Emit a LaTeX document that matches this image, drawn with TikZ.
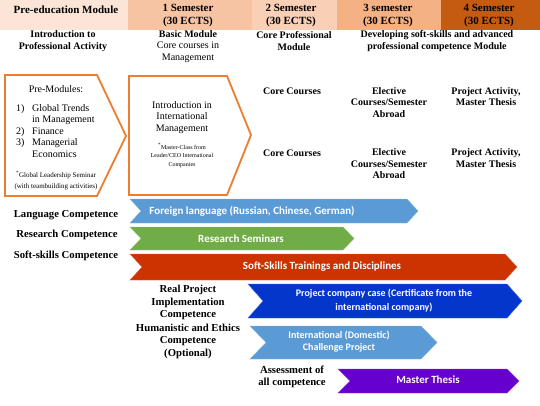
\documentclass[tikz,border=0pt]{standalone}
\usepackage{fontspec}
\setmainfont{Liberation Serif}
\newfontfamily\calfont{Carlito}
\definecolor{hc0}{HTML}{FCE4D6}
\definecolor{hc1}{HTML}{F6C4A3}
\definecolor{hc2}{HTML}{F9D0B5}
\definecolor{hc3}{HTML}{F4B183}
\definecolor{hc4}{HTML}{C55A11}
\definecolor{orangeline}{HTML}{ED7D31}
\definecolor{cblue}{HTML}{5B9BD5}
\definecolor{cgreen}{HTML}{70AD47}
\definecolor{cred}{HTML}{CC3300}
\definecolor{cdblue}{HTML}{0436CC}
\definecolor{cpurple}{HTML}{6600CC}
\tikzset{
  hdr/.style={font=\bfseries\fontsize{11}{13}\selectfont, align=center, inner sep=0pt},
  sub/.style={font=\fontsize{10}{11.5}\selectfont, align=center, inner sep=0pt},
  bsub/.style={sub, font=\bfseries\fontsize{10}{11.5}\selectfont},
  lbl/.style={font=\bfseries\fontsize{10.7}{12.5}\selectfont, align=center, inner sep=0pt},
  ctext/.style={font=\calfont\bfseries\fontsize{11}{13}\selectfont, text=white, align=center, inner sep=0pt},
  pent/.style={draw=orangeline, line width=1.8pt, fill=white, line join=miter},
  chev/.style={line width=0.4pt},
}
% \chevron{x1}{y1}{x2}{y2}{depth}{colour}
\newcommand{\chevron}[6]{%
  \pgfmathsetmacro{\ymid}{(#2+#4)/2}%
  \filldraw[chev, fill=#6, draw=#6!75!white] (#1,#2) -- (#3-#5,#2) -- (#3,\ymid) -- (#3-#5,#4) -- (#1,#4) -- (#1+#5,\ymid) -- cycle;%
}
\begin{document}
\begin{tikzpicture}[x=1pt,y=-1pt]
\useasboundingbox (0,0) rectangle (540,406);
% header band
\fill[hc0] (0,0) rectangle (128,30);
\fill[hc1] (128,0) rectangle (252,30);
\fill[hc2] (252,0) rectangle (337,30);
\fill[hc3] (337,0) rectangle (441,30);
\fill[hc4] (441,0) rectangle (540,30);
\node[hdr] (pre) at (66,10) {Pre-education Module};
\node[hdr] (s1) at (188,15.5) {1 Semester\\(30 ECTS)};
\node[hdr] (s2) at (291,15.5) {2 Semester\\(30 ECTS)};
\node[hdr] (s3) at (388,15.5) {3 semester\\(30 ECTS)};
\node[hdr] (s4) at (489,15.5) {4 Semester\\(30 ECTS)};
% module row
\node[bsub] (m0) at (63,41) {Introduction to\\Professional Activity};
\node[sub] (m1) at (188,46.5) {\textbf{Basic Module}\\Core courses in\\Management};
\node[bsub] (m2) at (294,41) {Core Professional\\Module};
\node[bsub] (m3) at (437,41) {Developing soft-skills and advanced\\professional competence Module};
% pentagons
\draw[pent] (5,75) -- (97,75) -- (126,136) -- (97,196) -- (5,196) -- cycle;
\draw[pent] (129,76) -- (227,76) -- (251,135) -- (227,195) -- (129,195) -- cycle;
\node[sub] (pm) at (56,89) {Pre-Modules:};
\node[sub, align=left, anchor=north west] (pl) at (16,104) {\makebox[16pt][l]{1)}Global Trends\\\hspace*{16pt}in Management\\\makebox[16pt][l]{2)}Finance\\\makebox[16pt][l]{3)}Managerial\\\hspace*{16pt}Economics};
\node[sub, font=\fontsize{7}{10.5}\selectfont] (gls) at (56,180.5) {\textsuperscript{*}Global Leadership Seminar\\(with teambuilding activities)};
\node[sub] (iim) at (182,117.5) {Introduction in\\International\\Management};
\node[sub, font=\fontsize{6}{8.6}\selectfont] (mc) at (182,155.5) {\textsuperscript{*}Master-Class from\\Leader/CEO International\\Companies};
% course columns
\node[bsub] (cc1) at (292,91) {Core Courses};
\node[bsub] (el1) at (389,102.5) {Elective\\Courses/Semester\\Abroad};
\node[bsub] (pa1) at (486,96.5) {Project Activity,\\Master Thesis};
\node[bsub] (cc2) at (292,153) {Core Courses};
\node[bsub] (el2) at (389,164) {Elective\\Courses/Semester\\Abroad};
\node[bsub] (pa2) at (486,158) {Project Activity,\\Master Thesis};
% competence chevrons
\chevron{130}{199}{418}{223}{11}{cblue}
\node[ctext] (fl) at (252,211) {Foreign language (Russian, Chinese, German)};
\chevron{130}{227}{354}{250}{11}{cgreen}
\node[ctext] (rs) at (241,238.5) {Research Seminars};
\chevron{130}{254}{517}{280}{12}{cred}
\node[ctext] (ss) at (322,267) {Soft-Skills Trainings and Disciplines};
\chevron{248}{284}{522}{318}{15}{cdblue}
\node[ctext, font=\calfont\bfseries\fontsize{10}{14}\selectfont] (pc) at (384,301) {Project company case (Certificate from the\\international company)};
\chevron{250}{326}{437}{359}{16}{cblue}
\node[ctext, font=\calfont\bfseries\fontsize{10}{12}\selectfont] (ic) at (339,342) {International (Domestic)\\Challenge Project};
\chevron{338}{369}{519}{393}{12}{cpurple}
\node[ctext] (mt) at (428,380) {Master Thesis};
% competence labels
\node[lbl] (lc) at (66,215) {Language Competence};
\node[lbl] (rc) at (67,234.5) {Research Competence};
\node[lbl] (sc) at (66,256) {Soft-skills Competence};
\node[lbl] (rp) at (188,302.5) {Real Project\\Implementation\\Competence};
\node[lbl] (he) at (188,341) {Humanistic and Ethics\\Competence\\(Optional)};
\node[lbl] (ac) at (292,377) {Assessment of\\all competence};
\end{tikzpicture}
\end{document}
